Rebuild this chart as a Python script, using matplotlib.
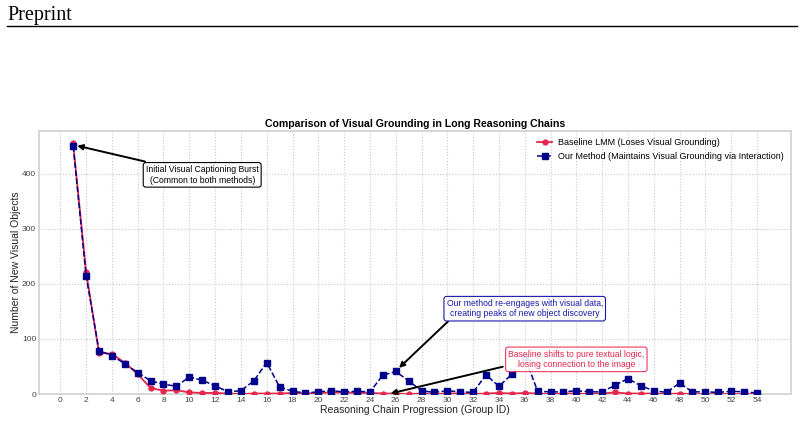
import matplotlib
matplotlib.use("Agg")
import matplotlib.pyplot as plt
from matplotlib.lines import Line2D

# ----------------------- data ---------------------------
groups = list(range(1, 55))

baseline = [455, 222, 75, 73, 57, 36, 11, 6, 7, 3,
            2, 2, 1, 0, 1, 1, 1, 2, 1, 2,
            3, 3, 2, 2, 1, 1, 0, 1, 0, 1,
            1, 0, 1, 2, 1, 2, 1, 0, 1, 1,
            0, 1, 3, 1, 1, 1, 0, 1, 0, 0,
            0, 0, 0, 0]

ours = [450, 215, 79, 70, 55, 39, 24, 18, 14, 31,
        25, 15, 4, 6, 24, 57, 13, 5, 2, 4,
        6, 4, 5, 4, 34, 41, 24, 6, 3, 6,
        4, 3, 35, 14, 36, 68, 5, 4, 4, 6,
        4, 4, 16, 28, 15, 6, 3, 20, 4, 4,
        3, 5, 4, 2]

xticks = list(range(0, 55, 2))
yticks = [0, 100, 200, 300, 400]

RED  = "#e8264d"
BLUE = "#00008b"
# ---------------------------------------------------------

plt.rcParams["font.family"] = ["Liberation Sans", "DejaVu Sans"]

fig = plt.figure(figsize=(8.04, 4.21), dpi=100)

# page header ("Preprint" + rule)
fig.text(0.009, 0.952, "Preprint", family="Liberation Serif", fontsize=14.5,
         color="black", va="baseline")
fig.add_artist(Line2D([0.009, 0.991], [0.938, 0.938], color="black", lw=1.0))

ax = fig.add_axes([0.0485, 0.064, 0.9355, 0.625])

ax.plot(groups, baseline, color=RED, lw=1.3, marker="o", ms=3.5,
        label="Baseline LMM (Loses Visual Grounding)", zorder=3)
ax.plot(groups, ours, color=BLUE, lw=1.1, ls="--", marker="s", ms=4,
        label="Our Method (Maintains Visual Grounding via Interaction)", zorder=4)

ax.set_ylim(bottom=0)
ax.set_xticks(xticks)
ax.set_yticks(yticks)
ax.tick_params(labelsize=6, colors="#444444", length=0, pad=2)
ax.grid(True, ls=":", color="#c8c8c8", lw=0.8)
ax.set_axisbelow(True)
for s in ax.spines.values():
    s.set_color("#d0d0d0")
    s.set_linewidth(1.2)

ax.set_title("Comparison of Visual Grounding in Long Reasoning Chains",
             fontsize=7.6, fontweight="bold", pad=3)
ax.set_xlabel("Reasoning Chain Progression (Group ID)", fontsize=7.5,
              color="#222222", labelpad=1)
ax.set_ylabel("Number of New Visual Objects", fontsize=7.5,
              color="#222222", labelpad=1)

ax.legend(loc="upper right", fontsize=6.5, frameon=False,
          borderaxespad=0.4, handlelength=1.6, handletextpad=0.7)

# annotations
BOX_FS = 6.2
ax.annotate("Initial Visual Captioning Burst\n(Common to both methods)",
            xy=(1.1, 452), xytext=(11.0, 398), fontsize=BOX_FS, ha="center",
            va="center", color="black",
            bbox=dict(boxstyle="round,pad=0.3", fc="white", ec="black", lw=0.8),
            arrowprops=dict(arrowstyle="-|>", color="black", lw=1.4,
                            mutation_scale=8, shrinkA=2, shrinkB=2))

ax.annotate("Our method re-engages with visual data,\ncreating peaks of new object discovery",
            xy=(26.1, 44), xytext=(36.0, 155), fontsize=BOX_FS, ha="center",
            va="center", color="#1a1aa8",
            bbox=dict(boxstyle="round,pad=0.3", fc="white", ec="#1a1aa8", lw=0.8),
            arrowprops=dict(arrowstyle="-|>", color="black", lw=1.4,
                            mutation_scale=8, shrinkA=0, shrinkB=2,
                            relpos=(0.03, 0.0)))

ax.annotate("Baseline shifts to pure textual logic,\nlosing connection to the image",
            xy=(25.6, 1), xytext=(40.0, 63), fontsize=BOX_FS, ha="center",
            va="center", color=RED,
            bbox=dict(boxstyle="round,pad=0.3", fc="white", ec=RED, lw=0.8,
                      alpha=0.9),
            arrowprops=dict(arrowstyle="-|>", color="black", lw=1.4,
                            mutation_scale=8, shrinkA=0, shrinkB=0,
                            relpos=(-0.04, 0.12)),
            zorder=5)

fig.savefig("out.png", dpi=100)
